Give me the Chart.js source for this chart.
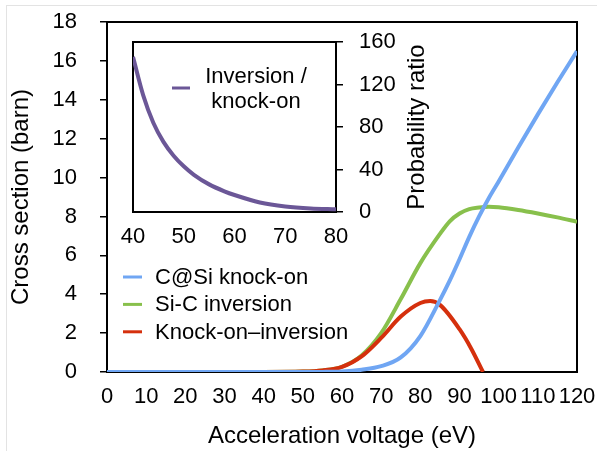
<!DOCTYPE html>
<html>
<head>
<meta charset="utf-8">
<script src="https://cdn.jsdelivr.net/npm/chart.js@4.4.1/dist/chart.umd.min.js"></script>
<style>
  html, body { margin: 0; padding: 0; background: #fff; }
  #wrap { position: relative; width: 597px; height: 451px; overflow: hidden; }
  #frame { position: absolute; left: 6px; top: 5px; right: -2px; bottom: -2px; border-left: 1px solid #e3e3e3; border-top: 1px solid #e3e3e3; }
  #mainChart { position: absolute; left: 0; top: 0; }
  #insetChart { position: absolute; left: 118px; top: 32px; }
</style>
</head>
<body>
<div id="wrap">
  <div id="frame"></div>
  <canvas id="mainChart" width="597" height="451"></canvas>
  <canvas id="insetChart" width="312" height="215"></canvas>
</div>
<script>
// main chart data
const voltage = [0, 40, 50, 55, 60, 65, 70, 75, 80, 85, 87.5, 90, 92.5, 95, 97.5, 100, 105, 110, 115, 120];
const knockOn = [0, 0, 0, 0.005, 0.03, 0.12, 0.3, 0.75, 1.85, 3.7, 4.7, 5.8, 6.95, 8.0, 8.95, 9.8, 11.55, 13.25, 14.9, 16.5];
const inversion = [0, 0, 0.02, 0.08, 0.27, 0.85, 2.0, 3.75, 5.6, 7.1, 7.75, 8.15, 8.38, 8.46, 8.5, 8.47, 8.33, 8.15, 7.95, 7.73];
const voltageKI = [0, 40, 50, 55, 60, 65, 70, 75, 80, 82.5, 85, 90, 93, 96];
const knockOnInversion = [0, 0, 0.02, 0.08, 0.26, 0.8, 1.75, 2.85, 3.55, 3.65, 3.45, 2.2, 1.2, 0];
const seriesNames = ['C@Si knock-on', 'Si-C inversion', 'Knock-on\u2013inversion'];
const voltageTicks = [0, 10, 20, 30, 40, 50, 60, 70, 80, 90, 100, 110, 120];
const sectionTicks = [0, 2, 4, 6, 8, 10, 12, 14, 16, 18];

// inset data
const ratioVoltage = [40, 42, 44, 46, 48, 50, 52, 55, 58, 60, 65, 70, 75, 80];
const ratio = [146, 110, 84, 66, 53, 43, 35, 26, 19.5, 16, 9, 5.2, 3.3, 2.5];
const ratioName = ['Inversion /', 'knock-on'];
const insetVoltageTicks = [40, 50, 60, 70, 80];
const ratioTicks = [0, 40, 80, 120, 160];

Chart.defaults.font.family = '"Liberation Sans", Arial, Helvetica, sans-serif';
Chart.defaults.color = '#000';

const toPoints = (xs, ys) => xs.map((x, i) => ({ x: x, y: ys[i] }));
const setTicks = list => scale => { scale.ticks = list.map(v => ({ value: v })); };
// fixed scale sizes, no extra label padding
const fixWidth = w => s => { s.width = w; s.paddingTop = 0; s.paddingBottom = 0; };
const fixHeight = h => s => { s.height = h; s.paddingLeft = 0; s.paddingRight = 0; };

// black box round the plot area
const boxPlugin = {
    id: 'boxPlugin',
    beforeDatasetsDraw(chart) {
        const { ctx, chartArea } = chart;
        ctx.save();
        ctx.strokeStyle = '#000';
        ctx.lineWidth = 2;
        ctx.strokeRect(chartArea.left, chartArea.top, chartArea.right - chartArea.left, chartArea.bottom - chartArea.top);
        ctx.restore();
    }
};

// legend in the lower left of the main plot
const mainLegend = {
    id: 'mainLegend',
    afterDatasetsDraw(chart) {
        const { ctx, chartArea } = chart;
        ctx.save();
        ctx.font = '22px "Liberation Sans", Arial, sans-serif';
        ctx.textBaseline = 'middle';
        chart.data.datasets.forEach((ds, i) => {
            const x = chartArea.left + 16;
            const y = chartArea.top + 255 + i * 27.4;
            ctx.strokeStyle = ds.borderColor;
            ctx.lineWidth = 3;
            ctx.beginPath();
            ctx.moveTo(x, y);
            ctx.lineTo(x + 19, y);
            ctx.stroke();
            ctx.fillStyle = '#000';
            ctx.fillText(ds.label, x + 32, y + 1);
        });
        ctx.restore();
    }
};

new Chart(document.getElementById('mainChart'), {
    type: 'line',
    data: {
        datasets: [
            {
                label: seriesNames[0],
                data: toPoints(voltage, knockOn),
                borderColor: '#70a6f3',
                order: 0
            },
            {
                label: seriesNames[1],
                data: toPoints(voltage, inversion),
                borderColor: '#88c04c',
                order: 2
            },
            {
                label: seriesNames[2],
                data: toPoints(voltageKI, knockOnInversion),
                borderColor: '#d5300d',
                order: 1
            }
        ]
    },
    options: {
        responsive: false,
        animation: false,
        layout: { padding: { left: 0, right: 20, top: 22, bottom: 0 } },
        elements: {
            point: { radius: 0 },
            line: { borderWidth: 4, cubicInterpolationMode: 'monotone', fill: false }
        },
        plugins: {
            legend: { display: false },
            tooltip: { enabled: false }
        },
        scales: {
            x: {
                type: 'linear',
                min: 0,
                max: 120,
                afterBuildTicks: setTicks(voltageTicks),
                afterFit: fixHeight(79),
                grid: { display: false, drawTicks: false },
                border: { color: '#000', width: 2 },
                ticks: { padding: 12, maxRotation: 0, autoSkip: false, font: { size: 22 } },
                title: { display: true, text: 'Acceleration voltage (eV)', font: { size: 24 }, padding: 0 }
            },
            y: {
                min: 0,
                max: 18,
                afterBuildTicks: setTicks(sectionTicks),
                afterFit: fixWidth(107),
                grid: { drawOnChartArea: false, tickLength: 7, color: '#000', lineWidth: 1.5 },
                border: { color: '#000', width: 2 },
                ticks: { padding: 23, font: { size: 22 } },
                title: { display: true, text: 'Cross section (barn)', font: { size: 24 }, padding: { top: 7 } }
            }
        }
    },
    plugins: [boxPlugin, mainLegend]
});

// inset: legend and rotated right-hand title
const insetText = {
    id: 'insetText',
    beforeDraw(chart) {
        const { ctx, chartArea } = chart;
        ctx.save();
        ctx.fillStyle = '#fff';
        ctx.fillRect(chartArea.left, chartArea.top, chartArea.right - chartArea.left, chartArea.bottom - chartArea.top);
        ctx.restore();
    },
    afterDatasetsDraw(chart) {
        const { ctx, chartArea } = chart;
        const ds = chart.data.datasets[0];
        ctx.save();
        ctx.strokeStyle = ds.borderColor;
        ctx.lineWidth = 3;
        ctx.beginPath();
        ctx.moveTo(chartArea.left + 39, chartArea.top + 46);
        ctx.lineTo(chartArea.left + 57, chartArea.top + 46);
        ctx.stroke();
        ctx.fillStyle = '#000';
        ctx.font = '22px "Liberation Sans", Arial, sans-serif';
        ctx.textAlign = 'center';
        ctx.textBaseline = 'middle';
        ratioName.forEach((t, i) => {
            ctx.fillText(t, chartArea.left + 123, chartArea.top + 35 + i * 25);
        });
        // y title on the right, reading upwards
        ctx.font = '24px "Liberation Sans", Arial, sans-serif';
        ctx.translate(chartArea.right + 81, (chartArea.top + chartArea.bottom) / 2);
        ctx.rotate(-Math.PI / 2);
        ctx.fillText('Probability ratio', 0, 0);
        ctx.restore();
    }
};

new Chart(document.getElementById('insetChart'), {
    type: 'line',
    data: {
        datasets: [{
            label: ratioName.join(' '),
            data: toPoints(ratioVoltage, ratio),
            borderColor: '#6b5797'
        }]
    },
    options: {
        responsive: false,
        animation: false,
        layout: { padding: { left: 15, right: 0, top: 10, bottom: 0 } },
        elements: {
            point: { radius: 0 },
            line: { borderWidth: 4, cubicInterpolationMode: 'monotone', fill: false }
        },
        plugins: {
            legend: { display: false },
            tooltip: { enabled: false }
        },
        scales: {
            x: {
                type: 'linear',
                min: 40,
                max: 80,
                afterBuildTicks: setTicks(insetVoltageTicks),
                afterFit: fixHeight(35),
                grid: { display: false, drawTicks: false },
                border: { color: '#000', width: 2 },
                ticks: { padding: 12, maxRotation: 0, autoSkip: false, font: { size: 22 } }
            },
            y: {
                position: 'right',
                min: 0,
                max: 160,
                afterBuildTicks: setTicks(ratioTicks),
                afterFit: fixWidth(94),
                grid: { drawOnChartArea: false, tickLength: 7, color: '#000', lineWidth: 1.5 },
                border: { color: '#000', width: 2 },
                ticks: { padding: 16, font: { size: 22 } }
            }
        }
    },
    plugins: [boxPlugin, insetText]
});
</script>
</body>
</html>
